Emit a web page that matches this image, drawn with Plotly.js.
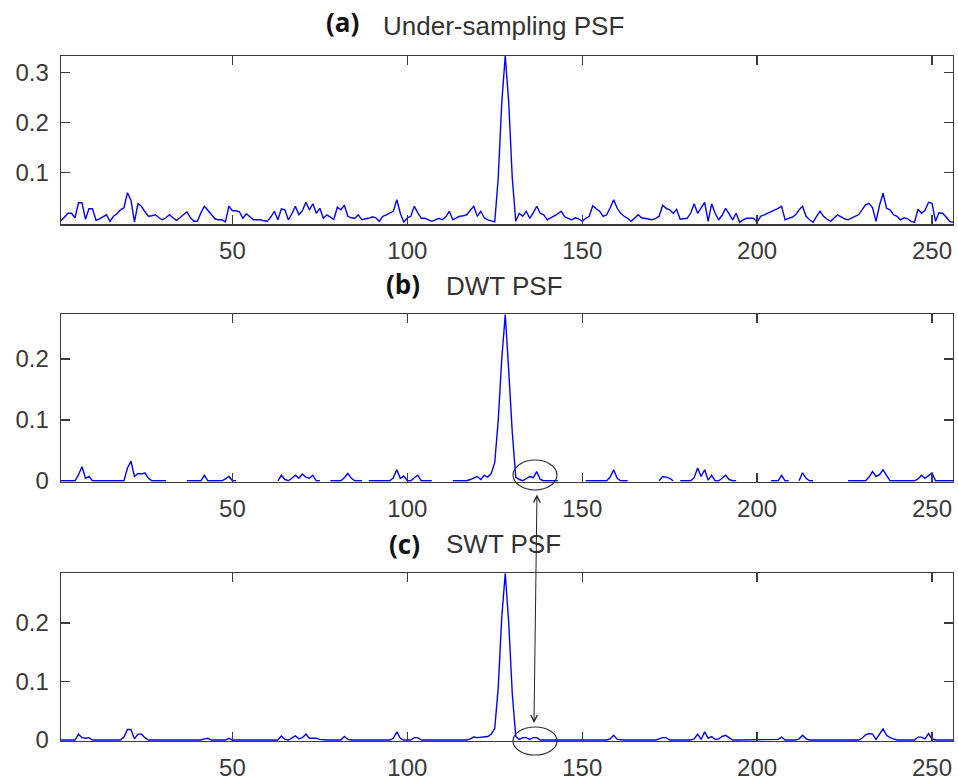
<!DOCTYPE html>
<html>
<head>
<meta charset="utf-8">
<script src="https://cdn.plot.ly/plotly-3.0.1.min.js"></script>
<style>html,body{margin:0;padding:0;background:#fff;}#chart{width:958px;height:780px;}</style>
</head>
<body>
<div id="chart"></div>
<script>
// sample index 1..256
const sampleIndex = Array.from({length: 256}, (_, i) => i + 1);

// (a) Under-sampling PSF
const underSamplingPSF = [
0.004,0.012,0.019,0.019,0.010,0.040,0.040,0.007,0.028,0.028,
0.005,0.008,0.012,0.016,0.003,0.013,0.018,0.026,0.030,0.060,
0.045,0.002,0.038,0.033,0.022,0.013,0.014,0.016,0.010,0.006,
0.010,0.016,0.010,0.005,0.010,0.016,0.022,0.010,0.003,0.003,
0.020,0.033,0.025,0.018,0.008,0.006,0.006,0.002,0.033,0.024,
0.024,0.022,0.009,0.018,0.011,0.006,0.006,0.006,0.004,0.003,
0.012,0.023,0.006,0.028,0.026,0.006,0.018,0.033,0.016,0.024,
0.041,0.026,0.038,0.019,0.029,0.009,0.016,0.012,0.007,0.031,
0.026,0.035,0.013,0.010,0.009,0.016,0.006,0.008,0.009,0.012,
0.010,0.003,0.013,0.016,0.020,0.023,0.046,0.019,0.001,0.010,
0.013,0.033,0.020,0.009,0.009,0.006,0.003,0.006,0.009,0.006,
0.012,0.023,0.006,0.010,0.013,0.014,0.016,0.025,0.033,0.013,
0.023,0.010,0.006,0.004,0.002,0.090,0.240,0.333,0.240,0.090,
0.003,0.019,0.013,0.023,0.009,0.020,0.033,0.019,0.016,0.006,
0.010,0.013,0.018,0.023,0.012,0.009,0.006,0.010,0.008,0.003,
0.009,0.013,0.034,0.028,0.023,0.013,0.016,0.030,0.046,0.029,
0.019,0.013,0.009,0.003,0.010,0.016,0.010,0.009,0.008,0.006,
0.009,0.013,0.035,0.029,0.026,0.019,0.027,0.007,0.008,0.009,
0.019,0.038,0.019,0.030,0.041,0.003,0.038,0.019,0.006,0.015,
0.029,0.018,0.006,0.019,0.001,0.006,0.009,0.009,0.009,0.001,
0.013,0.016,0.019,0.022,0.026,0.029,0.033,0.006,0.009,0.011,
0.016,0.026,0.033,0.013,0.006,0.001,0.013,0.023,0.013,0.007,
0.003,0.010,0.016,0.012,0.008,0.006,0.010,0.013,0.016,0.025,
0.036,0.039,0.030,0.003,0.035,0.059,0.029,0.026,0.016,0.013,
0.006,0.010,0.008,0.003,0.001,0.027,0.019,0.025,0.041,0.039,
0.003,0.020,0.019,0.012,0.003,0.001
];

// (b) DWT PSF (null = no visible trace)
const dwtPSF = [
0,0,0,0,0,0.010,0.023,0.004,0.007,0,
0,0,0,0,0,0,0,0,0,0.021,
0.032,0.007,0.012,0.011,0.013,0.004,0,0,0,0,
0,null,null,null,null,null,0,0,0,0,
0,0.009,0,0,0,0,0,0.003,0.007,0,
0,null,null,null,null,null,null,null,null,null,
null,null,0,0.009,0.002,0,0.004,0.009,0.004,0.011,
0.006,0.004,0.009,0,0,null,null,0,0,0,
0,0.005,0.012,0.004,0,0,0,null,0,0,
0,0,0,0,0,0.005,0.018,0.004,0.008,0,
0,0.005,0.009,0,0,0,0,null,null,null,
null,null,0,0,0,0,0,0.002,0.004,0.007,
0.002,0.009,0.006,0.012,0.030,0.100,0.200,0.273,0.180,0.080,
0.006,0.002,0,0.004,0.007,0.005,0.015,0.002,0,0,
0,0,0,null,null,null,null,null,null,null,
0,0,0,0,0,0,0,0.006,0.018,0.004,
0,0,0,null,null,null,null,null,null,null,
null,0,0.007,0.006,0.004,0,null,0,0,0,
0,0.005,0.021,0.007,0.018,0.001,0.009,0,0,0.004,
0.009,0.002,0,0,null,null,null,null,null,null,
null,null,null,0,0,0,0.009,0,0,null,
null,0,0.013,0.004,0,0,null,null,null,null,
null,null,null,null,null,0,0,0,0,0,
0,0.006,0.015,0.007,0.010,0.018,0.008,0,0,0,
0,0,0,0,0,0.003,0.009,0.004,0.008,0.013,
0,0,0,0,0,0
];

// (c) SWT PSF
const swtPSF = [
0,0,0,0,0,0.010,0.004,0.003,0.004,0,
0,0,0,0,0,0,0,0,0.005,0.018,
0.018,0.002,0.010,0.010,0.004,0,0,0,0,0,
0,0,0,0,0,0,0,0,0,0,
0,0.002,0.003,0,0,0,0,0,0.003,0,
0,0,0,0,0,0,0,0,0,0,
0,0,0,0.007,0.001,0,0.004,0.007,0.002,0.004,
0.010,0.003,0.003,0.003,0.001,0,0,0,0,0,
0,0.006,0.001,0,0,0,0,0,0,0,
0,0,0,0,0,0.003,0.014,0.003,0,0,
0,0.004,0.004,0,0,0,0,0,0,0,
0,0,0,0,0,0,0,0.002,0.005,0.004,
0.005,0.005,0.006,0.010,0.020,0.090,0.210,0.285,0.200,0.080,
0.006,0.001,0.004,0.004,0.001,0.004,0.004,0,0,0,
0,0,0,0,0,0,0,0,0,0,
0,0,0,0,0,0,0,0.002,0.008,0.001,
0,0,0,0,0,0,0,0,0,0,
0,0.002,0.004,0.004,0,0,0,0,0,0,
0,0.002,0.010,0.001,0.014,0.003,0.006,0.001,0.002,0.006,
0.008,0.004,0,0,0,0,0,0,0,0,
0,0,0,0,0,0.001,0.005,0,0,0,
0,0.002,0.008,0.002,0,0,0,0,0,0,
0,0,0,0,0,0,0,0,0,0.003,
0.009,0.011,0.010,0.001,0.010,0.019,0.008,0.004,0.002,0,
0,0,0,0,0,0.005,0.005,0.002,0.011,0.002,
0,0,0,0,0,0
];

const xTicks = [50, 100, 150, 200, 250];
const yTicksA = [0.1, 0.2, 0.3];
const yTicksB = [0, 0.1, 0.2];
const yTicksC = [0, 0.1, 0.2];

const lineStyle = {color: '#0000ff', width: 1.4};
const traces = [
  {x: sampleIndex, y: underSamplingPSF, type: 'scatter', mode: 'lines', line: lineStyle, xaxis: 'x', yaxis: 'y', connectgaps: false, hoverinfo: 'x+y'},
  {x: sampleIndex, y: dwtPSF, type: 'scatter', mode: 'lines', line: lineStyle, xaxis: 'x2', yaxis: 'y2', connectgaps: false, hoverinfo: 'x+y'},
  {x: sampleIndex, y: swtPSF, type: 'scatter', mode: 'lines', line: lineStyle, xaxis: 'x3', yaxis: 'y3', connectgaps: false, hoverinfo: 'x+y'}
];

const tickFont = {family: 'Liberation Sans, Arial, sans-serif', size: 24, color: '#3a3a3a'};
const axisCommon = {
  showline: true, linecolor: '#3c3c3c', linewidth: 1.3, mirror: 'ticks',
  ticks: 'inside', ticklen: 9, tickwidth: 1.3, tickcolor: '#3c3c3c',
  showgrid: false, zeroline: false, tickfont: tickFont, fixedrange: true
};
function xa(anchor) {
  return Object.assign({}, axisCommon, {anchor: anchor, domain: [0, 1], range: [1, 256], tickmode: 'array', tickvals: xTicks, ticklabelstandoff: 5});
}
function ya(anchor, dom, rng, tv) {
  return Object.assign({}, axisCommon, {anchor: anchor, domain: dom, range: rng, tickmode: 'array', tickvals: tv, ticklabelstandoff: 6});
}

const W = 892, H = 685, L = 61, T = 56;
const px = v => (v - L) / W;
const py = v => (T + H - v) / H;

const boldFont = {family: 'Open Sans, Noto Sans, sans-serif', size: 26, color: '#111'};
const titleFont = {family: 'Liberation Sans, Arial, sans-serif', size: 26, color: '#333'};

const annotations = [
  {text: '<b>(a)</b>', x: px(342), y: py(22), xref: 'paper', yref: 'paper', xanchor: 'center', yanchor: 'middle', showarrow: false, font: boldFont},
  {text: 'Under-sampling PSF', x: px(381), y: py(26), xref: 'paper', yref: 'paper', xanchor: 'left', yanchor: 'middle', showarrow: false, font: titleFont},
  {text: '<b>(b)</b>', x: px(403), y: py(284), xref: 'paper', yref: 'paper', xanchor: 'center', yanchor: 'middle', showarrow: false, font: boldFont},
  {text: 'DWT PSF', x: px(444), y: py(286), xref: 'paper', yref: 'paper', xanchor: 'left', yanchor: 'middle', showarrow: false, font: titleFont},
  {text: '<b>(c)</b>', x: px(404), y: py(544), xref: 'paper', yref: 'paper', xanchor: 'center', yanchor: 'middle', showarrow: false, font: boldFont},
  {text: 'SWT PSF', x: px(444), y: py(544), xref: 'paper', yref: 'paper', xanchor: 'left', yanchor: 'middle', showarrow: false, font: titleFont},
  {text: '', x: px(534), y: py(723), xref: 'paper', yref: 'paper', ax: 3, ay: -230, showarrow: true,
   arrowhead: 5, startarrowhead: 5, arrowside: 'end+start', arrowsize: 1.3, startarrowsize: 1.3, arrowwidth: 1, arrowcolor: '#222', standoff: 0, startstandoff: 0}
];

const shapes = [
  {type: 'circle', xref: 'paper', yref: 'paper', x0: px(513), x1: px(557), y0: py(490), y1: py(460), line: {color: '#333', width: 1.2}},
  {type: 'circle', xref: 'paper', yref: 'paper', x0: px(513), x1: px(557), y0: py(755), y1: py(727), line: {color: '#333', width: 1.2}}
];

const layout = {
  width: 958, height: 780,
  margin: {l: 61, r: 5, t: 56, b: 39, pad: 0},
  paper_bgcolor: '#ffffff', plot_bgcolor: '#ffffff',
  showlegend: false,
  xaxis: xa('y'), yaxis: ya('x', [0.7543, 1], [-0.003, 0.333], yTicksA),
  xaxis2: xa('y2'), yaxis2: ya('x2', [0.3785, 0.6229], [-0.0016, 0.2733], yTicksB),
  xaxis3: xa('y3'), yaxis3: ya('x3', [0, 0.2448], [-0.0017, 0.285], yTicksC),
  annotations: annotations,
  shapes: shapes
};

Plotly.newPlot('chart', traces, layout, {displayModeBar: false, staticPlot: true});
</script>
</body>
</html>
